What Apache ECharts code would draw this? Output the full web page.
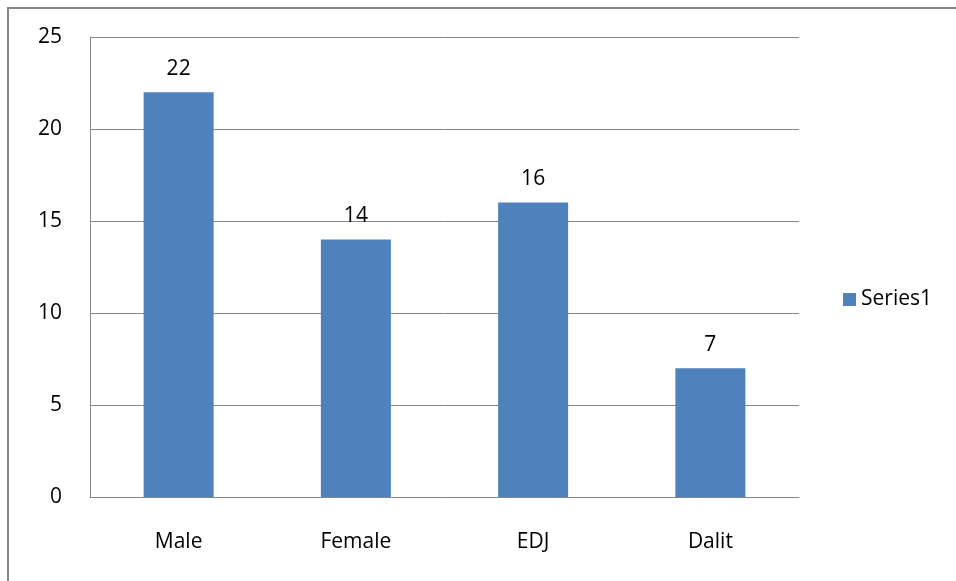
<!DOCTYPE html>
<html>
<head>
<meta charset="utf-8">
<script src="https://cdn.jsdelivr.net/npm/echarts@6/dist/echarts.min.js"></script>
<style>
html, body { margin: 0; padding: 0; background: #fff; }
#chart { width: 956px; height: 581px; }
</style>
</head>
<body>
<div id="chart"></div>
<script>
var categories = ['Male', 'Female', 'EDJ', 'Dalit']
var values = [22, 14, 16, 7]
var seriesName = 'Series1'

var font = 'Open Sans, Liberation Sans, sans-serif'
var gridColor = '#868686'

var myChart = echarts.init(document.getElementById('chart'))
var option = {
	animation: false,
	graphic: [{
		type: 'rect',
		shape: { x: 8, y: 8, width: 1000, height: 1000 },
		style: { fill: 'none', stroke: gridColor, lineWidth: 2 }
	}],
	grid: {
		left: 90,
		right: 157,
		top: 37,
		bottom: 84
	},
	legend: {
		data: [{ name: seriesName, icon: 'rect' }],
		orient: 'vertical',
		left: 838,
		top: 284,
		itemWidth: 13,
		itemHeight: 13,
		itemGap: 6,
		textStyle: { fontFamily: font, fontSize: 21, color: '#000', padding: [0, 0, 0, 0] }
	},
	xAxis: {
		type: 'category',
		data: categories,
		axisLine: { lineStyle: { color: gridColor, width: 1 } },
		axisTick: { show: false },
		axisLabel: { margin: 35, fontFamily: font, fontSize: 21, color: '#000' }
	},
	yAxis: {
		type: 'value',
		min: 0,
		max: 25,
		interval: 5,
		axisLine: { show: true, lineStyle: { color: gridColor, width: 1 } },
		axisTick: { show: false },
		axisLabel: { margin: 28, fontFamily: font, fontSize: 21, color: '#000' },
		splitLine: { lineStyle: { color: gridColor, width: 1 } }
	},
	series: [{
		name: seriesName,
		type: 'bar',
		data: values,
		barWidth: 70,
		itemStyle: { color: '#4F81BD' },
		label: {
			show: true,
			position: 'top',
			distance: 13,
			fontFamily: font,
			fontSize: 21,
			color: '#000'
		}
	}]
}
myChart.setOption(option)
</script>
</body>
</html>
